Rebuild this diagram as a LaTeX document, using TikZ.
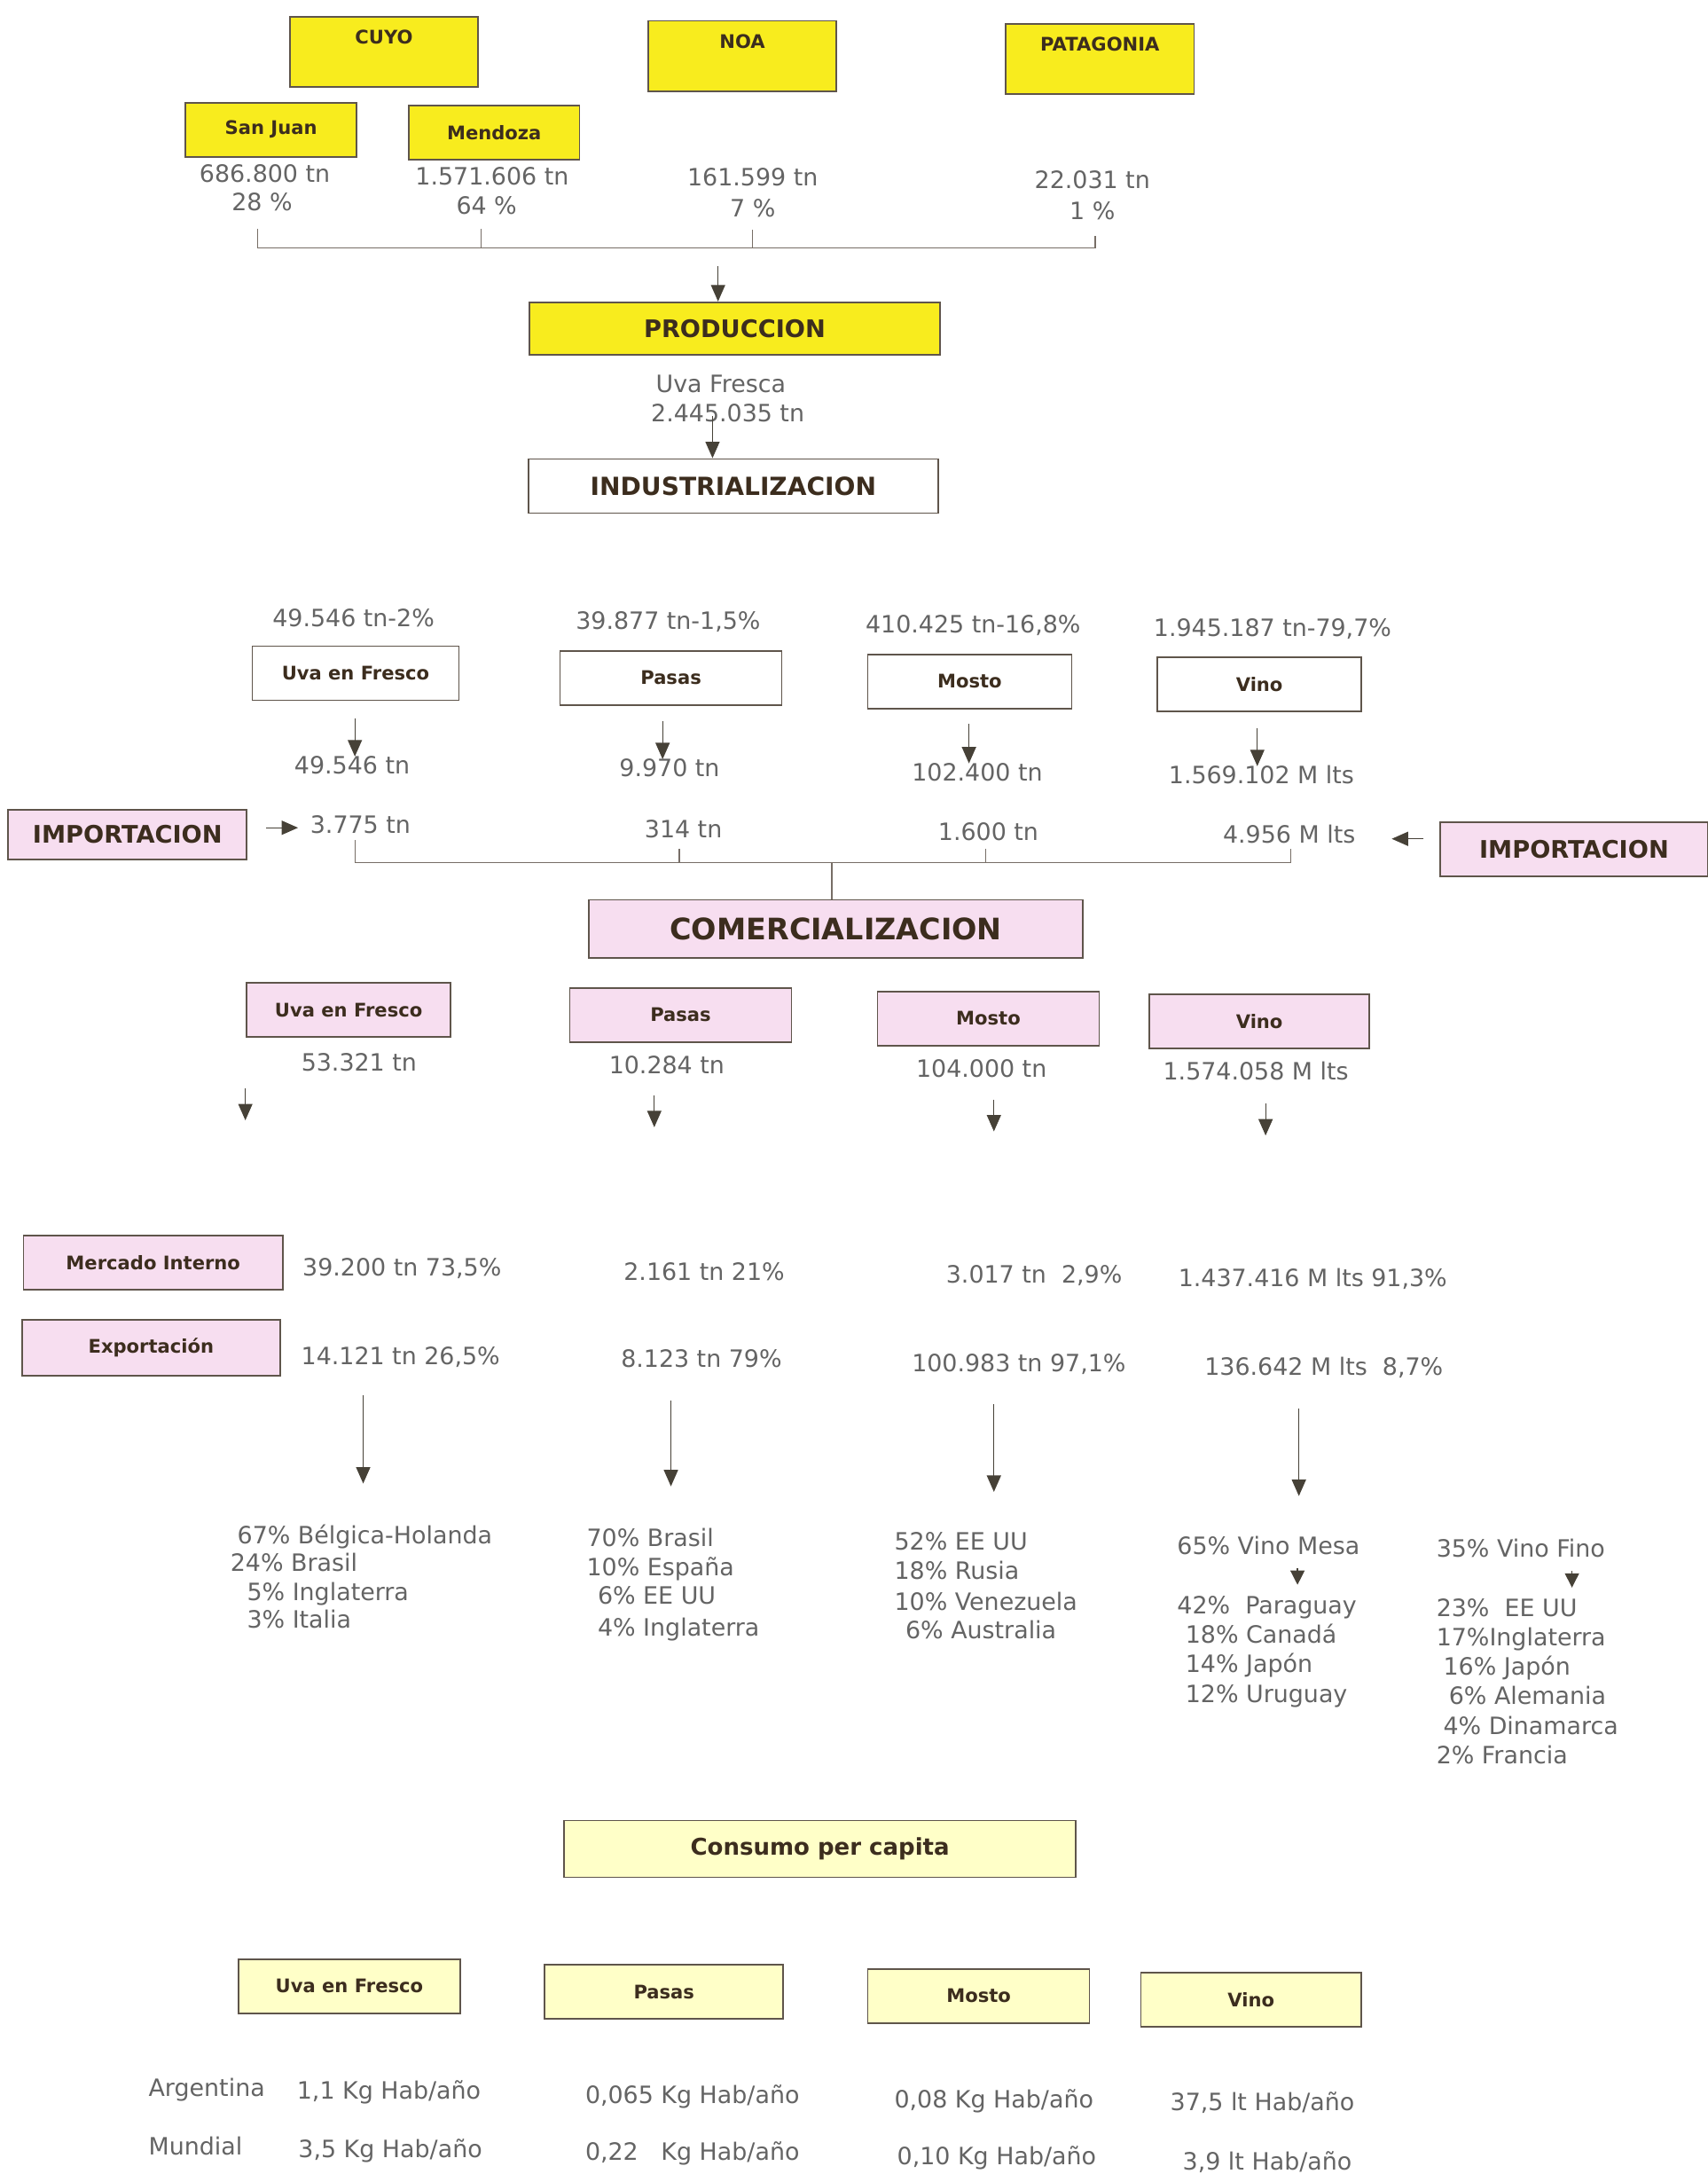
\documentclass[tikz,border=0pt]{standalone}
\usepackage{fontspec}
\setmainfont{DejaVu Sans}
\usetikzlibrary{arrows.meta}
\definecolor{regyellow}{RGB}{248,236,30}
\definecolor{impink}{RGB}{247,222,240}
\definecolor{cream}{RGB}{255,255,200}
\definecolor{edge}{RGB}{95,85,75}
\definecolor{valgray}{RGB}{100,100,100}
\definecolor{labtext}{RGB}{60,45,30}
\definecolor{arrowc}{RGB}{70,65,55}
\tikzset{
  box/.style={draw=edge, line width=1pt, text=labtext, inner sep=0pt, minimum height=1.22cm, font=\bfseries\fontsize{12}{14}\selectfont},
  yel/.style={box, fill=regyellow},
  pnk/.style={box, fill=impink},
  wht/.style={box, fill=white},
  crm/.style={box, fill=cream},
  region/.style={minimum width=4.25cm, text height=0.52cm, text depth=0.87cm, inner ysep=0.1cm},
  big/.style={font=\bfseries\fontsize{15.5}{18}\selectfont},
  val/.style={text=valgray, inner sep=0pt, text height=11pt, text depth=0pt, font=\fontsize{15.3}{18}\selectfont},
  conn/.style={draw=edge!85, line width=0.7pt},
  arr/.style={draw=arrowc, line width=0.7pt, -{Triangle[length=0.37cm,width=0.32cm]}},
  tip/.style={draw=arrowc, line width=0.7pt, -{Triangle[length=0.32cm,width=0.32cm]}}
}
\begin{document}
\begin{tikzpicture}[x=0.031266cm, y=-0.031266cm]
      \useasboundingbox (0,0) rectangle (1232,1568);
      \foreach \n/\x/\y/\t in {cuyo/277/37.5/CUYO, noa/535.5/40.5/NOA, pata/793.5/42.5/PATAGONIA}{
        \node[yel, region] (\n) at (\x,\y) {\t};
      }
      \node[yel, minimum width=3.85cm] (sj) at (195.5,93.5) {San Juan};
      \node[yel, minimum width=3.85cm] (mza) at (356.5,95.5) {Mendoza};
      \foreach \n/\x/\y/\a/\px/\py/\b in {sj/191/125/686.800 tn/189/146/28 \%, mza/355/127/1.571.606 tn/351/148/64 \%, noa/543/128/161.599 tn/543/150/7 \%, pata/788/130/22.031 tn/788/152/1 \%}{
        \node[val] (t\n) at (\x,\y) {\a};
        \node[val] (p\n) at (\px,\py) {\b};
      }
      \coordinate (k1) at (186,165);
      \coordinate (k2) at (347,165);
      \coordinate (k3) at (543,166);
      \coordinate (k4) at (790,170);
      \coordinate (kl) at (186,179);
      \coordinate (kr) at (790,179);
      \draw[conn] (k1) -- (kl) -- (kr) -- (k4);
      \draw[conn] (k2) -- (k2 |- kl) (k3) -- (k3 |- kl);
      \coordinate (pa) at (518,192);
      \node[yel, big, minimum width=9.25cm, minimum height=1.19cm] (prod) at (530,237) {PRODUCCION};
      \draw[arr] (pa) -- (pa |- prod.north);
      \node[val] (uf1) at (520,277) {Uva Fresca};
      \node[val] (uf2) at (525,298) {2.445.035 tn};
      \coordinate (ia) at (514,300);
      \node[wht, font=\bfseries\fontsize{16}{19}\selectfont, minimum width=9.25cm] (ind) at (529,350.5) {INDUSTRIALIZACION};
      \draw[arr] (ia) -- (ia |- ind.north);
      \foreach \i/\x/\y/\w/\t/\sx/\sy/\s in {1/256.5/485.5/4.66/Uva en Fresco/255/446/{49.546 tn-2\%}, 2/484/489/5.0/Pasas/482/448/{39.877 tn-1,5\%}, 3/699.5/491.5/4.6/Mosto/702/450/{410.425 tn-16,8\%}, 4/908.5/493.5/4.6/Vino/918/453/{1.945.187 tn-79,7\%}}{
        \node[wht, minimum width=\w cm] (I\i) at (\x,\y) {\t};
        \node[val] (IS\i) at (\sx,\sy) {\s};
      }
      \foreach \i/\ax/\ay/\x/\y/\t in {1/256/518/254/552/49.546 tn, 2/478/520/483/554/9.970 tn, 3/699/522/705/557/102.400 tn, 4/907/525/910/559/1.569.102 M lts}{
        \node[val] (IQ\i) at (\x,\y) {\t};
        \coordinate (IA\i) at (\ax,\ay);
        \draw[arr] (IA\i) -- (IA\i |- IQ\i.north);
      }
      \node[pnk, big, minimum width=5.38cm, minimum height=1.13cm] (impL) at (92,602) {IMPORTACION};
      \node[pnk, big, minimum width=6.03cm] (impR) at (1135.5,612.5) {IMPORTACION};
      \foreach \i/\x/\y/\t in {1/260/595/3.775 tn, 2/493/598/314 tn, 3/713/600/1.600 tn, 4/930/602/4.956 M lts}{
        \node[val] (M\i) at (\x,\y) {\t};
      }
      \coordinate (la) at (192,597);
      \coordinate (lt) at (215,597);
      \coordinate (ra) at (1027,605);
      \coordinate (rt) at (1004,605);
      \draw[arr] (la) -- (lt);
      \draw[arr] (ra) -- (rt);
      \coordinate (c1) at (256,606);
      \coordinate (c2) at (490,612);
      \coordinate (c3) at (711,612);
      \coordinate (c4) at (931,612);
      \coordinate (cl) at (256,622);
      \coordinate (cr) at (931,622);
      \draw[conn] (c1) -- (cl) -- (cr) -- (c4);
      \draw[conn] (c2) -- (c2 |- cl) (c3) -- (c3 |- cl);
      \node[pnk, font=\bfseries\fontsize{19}{22}\selectfont, minimum width=11.13cm, minimum height=1.31cm] (com) at (603,670) {COMERCIALIZACION};
      \coordinate (cm) at (600,622);
      \draw[conn] (cm) -- (cm |- com.north);
      \foreach \i/\x/\y/\w/\t/\vx/\vy/\v/\ax/\ay in {1/251.5/728.5/4.6/Uva en Fresco/259/766/53.321 tn/177/785, 2/491/732/5.0/Pasas/481/768/10.284 tn/472/790, 3/713/734.5/5.0/Mosto/708/771/104.000 tn/717/793, 4/908.5/736.5/4.97/Vino/906/773/1.574.058 M lts/913/796}{
        \node[pnk, minimum width=\w cm] (C\i) at (\x,\y) {\t};
        \node[val] (CV\i) at (\vx,\vy) {\v};
        \coordinate (CA\i) at (\ax,\ay);
        \coordinate (CB\i) at (\ax,{\ay+23});
        \draw[arr] (CA\i) -- (CB\i);
      }
      \node[pnk, font=\bfseries\fontsize{12}{14}\selectfont, minimum width=5.85cm] (mi) at (110.5,910.5) {Mercado Interno};
      \node[pnk, font=\bfseries\fontsize{12}{14}\selectfont, minimum width=5.82cm, minimum height=1.25cm] (ex) at (109,972) {Exportación};
      \foreach \i/\x/\y/\t in {1/290/914/{39.200 tn 73,5\%}, 2/508/917/{2.161 tn 21\%}, 3/746/919/{3.017 tn\ \ 2,9\%}, 4/947/922/{1.437.416 M lts 91,3\%}}{
        \node[val] (MI\i) at (\x,\y) {\t};
      }
      \foreach \i/\x/\y/\t in {1/289/978/{14.121 tn 26,5\%}, 2/506/980/{8.123 tn 79\%}, 3/735/983/{100.983 tn 97,1\%}, 4/955/986/{136.642 M lts\ \ 8,7\%}}{
        \node[val] (EX\i) at (\x,\y) {\t};
      }
      \foreach \i/\x/\a/\b in {1/262/1006/1070, 2/484/1010/1072, 3/717/1013/1076, 4/937/1016/1079}{
        \coordinate (LA\i) at (\x,\a);
        \coordinate (LB\i) at (\x,\b);
        \draw[arr] (LA\i) -- (LB\i);
      }
      \foreach \i/\x/\y/\t in {1/171/1107/67\% Bélgica-Holanda, 2/166/1127/24\% Brasil, 3/178/1148/5\% Inglaterra, 4/178/1168/3\% Italia}{
        \node[val, anchor=west] (DU\i) at (\x,\y) {\t};
      }
      \foreach \i/\x/\y/\t in {1/423/1109/70\% Brasil, 2/423/1130/10\% España, 3/431/1151/6\% EE UU, 4/431/1174/4\% Inglaterra}{
        \node[val, anchor=west] (DP\i) at (\x,\y) {\t};
      }
      \foreach \i/\x/\y/\t in {1/645/1112/52\% EE UU, 2/645/1133/18\% Rusia, 3/645/1155/10\% Venezuela, 4/653/1176/6\% Australia}{
        \node[val, anchor=west] (DM\i) at (\x,\y) {\t};
      }
      \node[val, anchor=west] (vmesa) at (849,1115) {65\% Vino Mesa};
      \node[val, anchor=west] (vfino) at (1036,1117) {35\% Vino Fino};
      \coordinate (VMa) at (936,1131);
      \coordinate (VMb) at (936,1143);
      \coordinate (VFa) at (1134,1133);
      \coordinate (VFb) at (1134,1145);
      \draw[tip] (VMa) -- (VMb);
      \draw[tip] (VFa) -- (VFb);
      \foreach \i/\x/\y/\t in {1/849/1158/42\%\ \ Paraguay, 2/855/1179/18\% Canadá, 3/855/1200/14\% Japón, 4/855/1222/12\% Uruguay}{
        \node[val, anchor=west] (DV\i) at (\x,\y) {\t};
      }
      \foreach \i/\x/\y/\t in {1/1036/1160/23\%\ \ EE UU, 2/1036/1181/17\%Inglaterra, 3/1041/1202/16\% Japón, 4/1045/1223/6\% Alemania, 5/1041/1245/4\% Dinamarca, 6/1036/1266/2\% Francia}{
        \node[val, anchor=west] (DF\i) at (\x,\y) {\t};
      }
      \node[crm, font=\bfseries\fontsize{14.8}{18}\selectfont, minimum width=11.54cm, minimum height=1.28cm] (cpc) at (591.5,1333.5) {Consumo per capita};
      \foreach \i/\x/\y/\w/\t in {1/252/1432.5/5.0/Uva en Fresco, 2/479/1436.5/5.38/Pasas, 3/706/1439.5/5.0/Mosto, 4/902.5/1442.5/4.97/Vino}{
        \node[crm, minimum width=\w cm] (K\i) at (\x,\y) {\t};
      }
      \node[val, anchor=west] (arg) at (107,1506) {Argentina};
      \node[val, anchor=west] (mun) at (107,1548) {Mundial};
      \foreach \i/\x/\y/\t in {1/214/1508/{1,1 Kg Hab/año}, 2/422/1511/{0,065 Kg Hab/año}, 3/645/1514/{0,08 Kg Hab/año}, 4/844/1516/{37,5 lt Hab/año}}{
        \node[val, anchor=west] (A\i) at (\x,\y) {\t};
      }
      \foreach \i/\x/\y/\t in {1/215/1550/{3,5 Kg Hab/año}, 2/422/1552/{0,22\ \ \ Kg Hab/año}, 3/647/1555/{0,10 Kg Hab/año}, 4/853/1559/{3,9 lt Hab/año}}{
        \node[val, anchor=west] (W\i) at (\x,\y) {\t};
      }
    \end{tikzpicture}
\end{document}
